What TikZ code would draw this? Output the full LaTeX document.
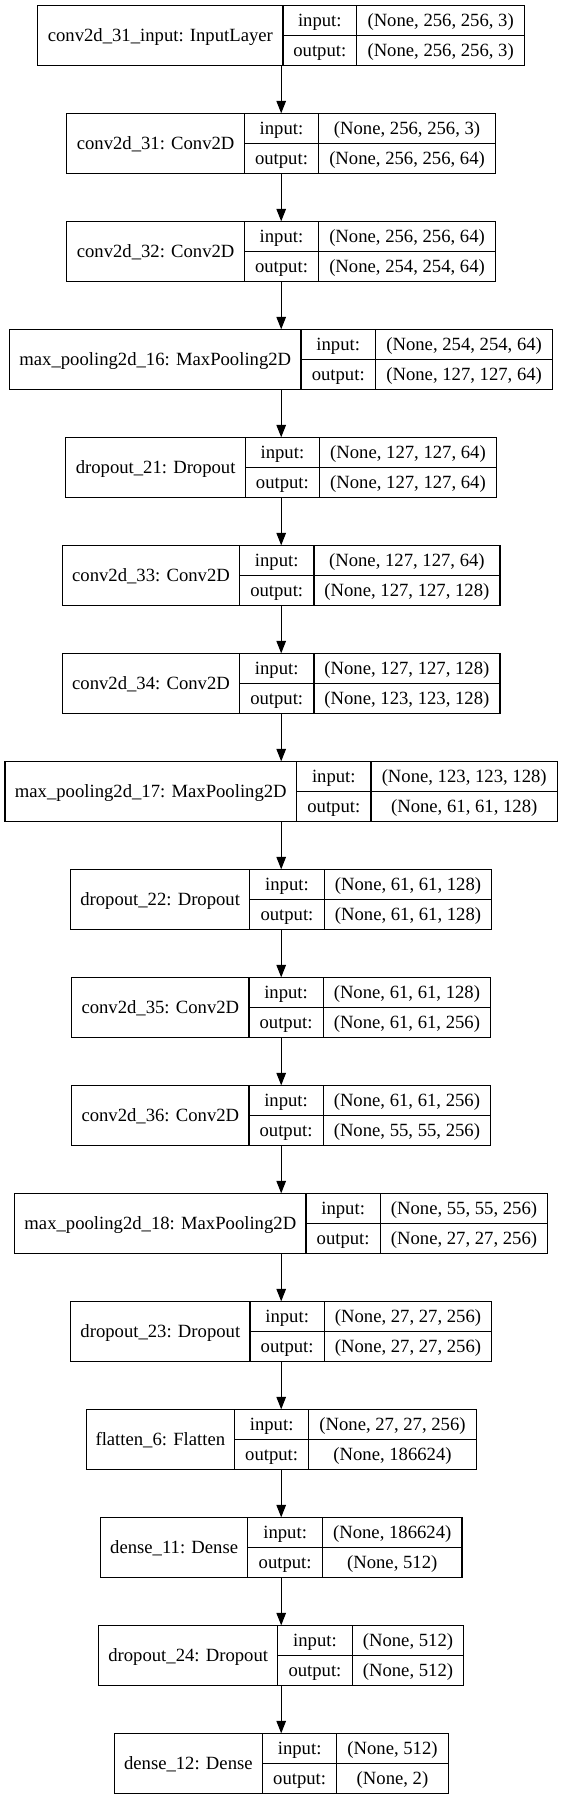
\documentclass[tikz,border=0pt]{standalone}
\usepackage{fontspec}
\setmainfont{Liberation Serif}
\usetikzlibrary{arrows.meta}
\tikzset{
  cell/.style={draw, line width=1.2pt, fill=white, inner sep=0pt, outer sep=0pt,
    font=\fontsize{18.67pt}{22pt}\selectfont, text height=12.5pt, text depth=0.5pt},
  outerbox/.style={draw=none, fill=white, inner sep=0pt, outer sep=0pt},
  conn/.style={line width=1.2pt, -{Triangle[length=12.5pt,width=9.5pt]}}
}
\newcommand{\layer}[9]{%
  \pgfmathsetmacro\T{-(5.33+108*#2)}%
  \pgfmathsetmacro\yc{\T-30}%
  \pgfmathsetmacro\yi{\T-15}%
  \pgfmathsetmacro\yo{\T-45}%
  \node[outerbox, minimum width={(#6-#3)*1pt}, minimum height=60pt] (#1) at ({(#3+#6)/2},\yc) {};
  \node[cell, minimum width={(#4-#3)*1pt}, minimum height=60pt] (#1n) at ({(#3+#4)/2},\yc) {#7};
  \node[cell, minimum width={(#5-#4)*1pt}, minimum height=30pt] (#1ik) at ({(#4+#5)/2},\yi) {input:};
  \node[cell, minimum width={(#5-#4)*1pt}, minimum height=30pt] (#1ok) at ({(#4+#5)/2},\yo) {output:};
  \node[cell, minimum width={(#6-#5)*1pt}, minimum height=30pt] (#1iv) at ({(#5+#6)/2},\yi) {#8};
  \node[cell, minimum width={(#6-#5)*1pt}, minimum height=30pt] (#1ov) at ({(#5+#6)/2},\yo) {#9};
}
\begin{document}
\begin{tikzpicture}[x=1pt,y=1pt]
\useasboundingbox[fill=white] (0,0) rectangle (563,-1799);
\layer{a}{0}{37.7}{283.0}{356.6}{524.7}{conv2d\_31\_input: InputLayer}{(None, 256, 256, 3)}{(None, 256, 256, 3)}
\layer{b}{1}{66.8}{244.5}{318.5}{495.6}{conv2d\_31: Conv2D}{(None, 256, 256, 3)}{(None, 256, 256, 64)}
\layer{c}{2}{66.8}{244.5}{318.5}{495.6}{conv2d\_32: Conv2D}{(None, 256, 256, 64)}{(None, 254, 254, 64)}
\layer{d}{3}{9.7}{300.9}{375.6}{552.7}{max\_pooling2d\_16: MaxPooling2D}{(None, 254, 254, 64)}{(None, 127, 127, 64)}
\layer{e}{4}{65.7}{245.6}{319.2}{496.7}{dropout\_21: Dropout}{(None, 127, 127, 64)}{(None, 127, 127, 64)}
\layer{f}{5}{62.5}{239.5}{313.9}{499.9}{conv2d\_33: Conv2D}{(None, 127, 127, 64)}{(None, 127, 127, 128)}
\layer{g}{6}{62.5}{239.5}{313.9}{499.9}{conv2d\_34: Conv2D}{(None, 127, 127, 128)}{(None, 123, 123, 128)}
\layer{h}{7}{5.0}{296.6}{371.0}{557.4}{max\_pooling2d\_17: MaxPooling2D}{(None, 123, 123, 128)}{(None, 61, 61, 128)}
\layer{i}{8}{70.7}{249.6}{324.3}{491.7}{dropout\_22: Dropout}{(None, 61, 61, 128)}{(None, 61, 61, 128)}
\layer{j}{9}{71.8}{248.9}{323.2}{490.6}{conv2d\_35: Conv2D}{(None, 61, 61, 128)}{(None, 61, 61, 256)}
\layer{k}{10}{71.8}{248.9}{323.2}{490.6}{conv2d\_36: Conv2D}{(None, 61, 61, 256)}{(None, 55, 55, 256)}
\layer{l}{11}{14.7}{306.0}{380.3}{547.7}{max\_pooling2d\_18: MaxPooling2D}{(None, 55, 55, 256)}{(None, 27, 27, 256)}
\layer{m}{12}{70.7}{250.0}{324.3}{491.7}{dropout\_23: Dropout}{(None, 27, 27, 256)}{(None, 27, 27, 256)}
\layer{n}{13}{86.2}{234.5}{308.8}{476.2}{flatten\_6: Flatten}{(None, 27, 27, 256)}{(None, 186624)}
\layer{o}{14}{100.5}{247.8}{322.5}{461.9}{dense\_11: Dense}{(None, 186624)}{(None, 512)}
\layer{p}{15}{98.8}{277.6}{352.3}{463.6}{dropout\_24: Dropout}{(None, 512)}{(None, 512)}
\layer{q}{16}{114.2}{262.5}{336.8}{448.2}{dense\_12: Dense}{(None, 512)}{(None, 2)}
\foreach \u/\v in {a/b,b/c,c/d,d/e,e/f,f/g,g/h,h/i,i/j,j/k,k/l,l/m,m/n,n/o,o/p,p/q}
  \draw[conn] (\u.south) -- (\v.north);
\end{tikzpicture}
\end{document}
